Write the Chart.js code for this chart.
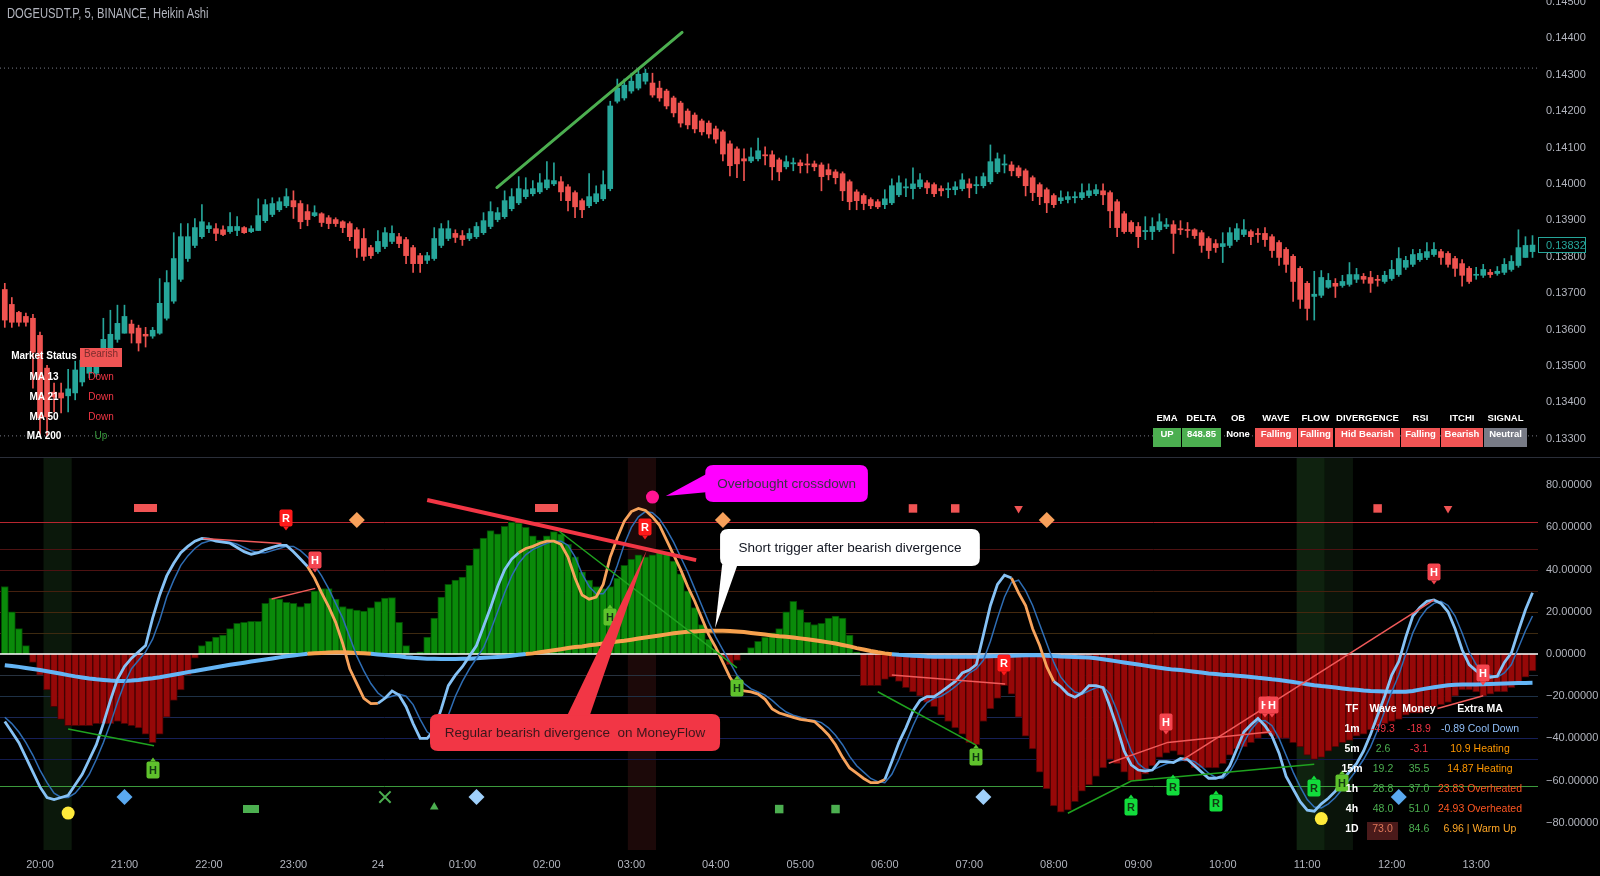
<!DOCTYPE html>
<html>
<head>
<meta charset="utf-8">
<title>DOGEUSDT.P, 5, BINANCE, Heikin Ashi</title>
<script src="https://cdn.jsdelivr.net/npm/chart.js@4.4.1/dist/chart.umd.min.js"></script>
<style>
  html, body { margin: 0; padding: 0; background: #000; }
  body { width: 1600px; height: 876px; position: relative; overflow: hidden; font-family: "Liberation Sans", Arial, sans-serif; }
  canvas { position: absolute; left: 0; }
  #price { top: 0; }
  #osc { top: 458px; }
  .sep { position: absolute; left: 0; top: 457px; width: 1600px; height: 1px; background: #2a2e39; }
  .t { position: absolute; white-space: nowrap; text-align: center; }
</style>
</head>
<body>
<canvas id="price" width="1600" height="457"></canvas>
<div class="sep"></div>
<canvas id="osc" width="1600" height="418"></canvas>
<div id="overlay"></div>
<script>
// Heikin Ashi 5m candles, first bar = 19:35 (index -5 from 20:00)
const firstBar = -5;
const hO = [
  0.13710, 0.13669, 0.13647, 0.13636, 0.13631, 0.13584, 0.13494, 0.13428, 0.13426, 0.13418,
  0.13426, 0.13456, 0.13480, 0.13480, 0.13508, 0.13543, 0.13573, 0.13590, 0.13615, 0.13604,
  0.13587, 0.13582, 0.13590, 0.13631, 0.13678, 0.13738, 0.13795, 0.13831, 0.13855, 0.13877,
  0.13877, 0.13874, 0.13869, 0.13872, 0.13880, 0.13869, 0.13872, 0.13899, 0.13916, 0.13929,
  0.13940, 0.13954, 0.13946, 0.13924, 0.13913, 0.13918, 0.13907, 0.13902, 0.13896, 0.13891,
  0.13874, 0.13850, 0.13825, 0.13814, 0.13828, 0.13842, 0.13855, 0.13847, 0.13825, 0.13803,
  0.13790, 0.13795, 0.13831, 0.13850, 0.13864, 0.13858, 0.13850, 0.13855, 0.13866, 0.13883,
  0.13902, 0.13910, 0.13932, 0.13948, 0.13965, 0.13973, 0.13978, 0.13989, 0.14000, 0.14006,
  0.13992, 0.13976, 0.13954, 0.13940, 0.13951, 0.13959, 0.13987, 0.14227, 0.14236, 0.14255,
  0.14263, 0.14282, 0.14277, 0.14263, 0.14255, 0.14236, 0.14222, 0.14200, 0.14189, 0.14173,
  0.14167, 0.14151, 0.14143, 0.14110, 0.14096, 0.14069, 0.14063, 0.14069, 0.14080, 0.14080,
  0.14066, 0.14047, 0.14055, 0.14058, 0.14055, 0.14055, 0.14052, 0.14039, 0.14033, 0.14028,
  0.14006, 0.13978, 0.13968, 0.13957, 0.13951, 0.13943, 0.13948, 0.13970, 0.13989, 0.13987,
  0.13992, 0.14003, 0.13998, 0.13987, 0.13984, 0.13984, 0.13987, 0.14000, 0.13995, 0.13995,
  0.14006, 0.14033, 0.14052, 0.14052, 0.14044, 0.14036, 0.14017, 0.13998, 0.13984, 0.13968,
  0.13954, 0.13957, 0.13962, 0.13962, 0.13968, 0.13973, 0.13981, 0.13976, 0.13951, 0.13918,
  0.13894, 0.13883, 0.13869, 0.13869, 0.13874, 0.13883, 0.13888, 0.13877, 0.13874, 0.13874,
  0.13866, 0.13850, 0.13836, 0.13828, 0.13831, 0.13847, 0.13861, 0.13869, 0.13864, 0.13864,
  0.13855, 0.13839, 0.13820, 0.13801, 0.13768, 0.13727, 0.13691, 0.13694, 0.13716, 0.13727,
  0.13721, 0.13724, 0.13738, 0.13746, 0.13743, 0.13738, 0.13732, 0.13740, 0.13751, 0.13771,
  0.13779, 0.13792, 0.13798, 0.13806, 0.13814, 0.13809, 0.13795, 0.13781, 0.13768, 0.13749,
  0.13749, 0.13757, 0.13754, 0.13757, 0.13765, 0.13776, 0.13798, 0.13814
];
const hC = [
  0.13626, 0.13620, 0.13620, 0.13620, 0.13538, 0.13357, 0.13360, 0.13415, 0.13412, 0.13437,
  0.13489, 0.13516, 0.13502, 0.13502, 0.13573, 0.13587, 0.13617, 0.13636, 0.13590, 0.13563,
  0.13582, 0.13598, 0.13672, 0.13729, 0.13795, 0.13855, 0.13855, 0.13880, 0.13896, 0.13885,
  0.13864, 0.13861, 0.13883, 0.13883, 0.13866, 0.13877, 0.13913, 0.13943, 0.13946, 0.13951,
  0.13965, 0.13937, 0.13896, 0.13902, 0.13921, 0.13894, 0.13891, 0.13891, 0.13880, 0.13855,
  0.13823, 0.13801, 0.13803, 0.13842, 0.13866, 0.13864, 0.13836, 0.13803, 0.13781, 0.13781,
  0.13803, 0.13850, 0.13877, 0.13877, 0.13853, 0.13847, 0.13864, 0.13883, 0.13899, 0.13924,
  0.13921, 0.13954, 0.13965, 0.13987, 0.13984, 0.13987, 0.14003, 0.14011, 0.14009, 0.13978,
  0.13954, 0.13937, 0.13929, 0.13965, 0.13973, 0.13998, 0.14214, 0.14263, 0.14271, 0.14282,
  0.14301, 0.14304, 0.14244, 0.14236, 0.14214, 0.14195, 0.14167, 0.14162, 0.14151, 0.14143,
  0.14137, 0.14123, 0.14082, 0.14050, 0.14055, 0.14063, 0.14074, 0.14091, 0.14077, 0.14047,
  0.14033, 0.14061, 0.14058, 0.14050, 0.14052, 0.14047, 0.14020, 0.14025, 0.14017, 0.13981,
  0.13951, 0.13954, 0.13946, 0.13940, 0.13937, 0.13959, 0.13995, 0.14003, 0.13992, 0.14000,
  0.14011, 0.13989, 0.13973, 0.13981, 0.13987, 0.13992, 0.14011, 0.13989, 0.13998, 0.14020,
  0.14061, 0.14069, 0.14055, 0.14036, 0.14022, 0.13995, 0.13976, 0.13965, 0.13948, 0.13943,
  0.13962, 0.13965, 0.13965, 0.13976, 0.13981, 0.13984, 0.13970, 0.13926, 0.13880, 0.13869,
  0.13869, 0.13855, 0.13872, 0.13883, 0.13896, 0.13888, 0.13864, 0.13874, 0.13872, 0.13858,
  0.13831, 0.13817, 0.13825, 0.13836, 0.13866, 0.13877, 0.13874, 0.13855, 0.13861, 0.13847,
  0.13817, 0.13798, 0.13779, 0.13732, 0.13683, 0.13658, 0.13697, 0.13743, 0.13735, 0.13719,
  0.13732, 0.13751, 0.13751, 0.13738, 0.13727, 0.13735, 0.13749, 0.13765, 0.13795, 0.13790,
  0.13806, 0.13809, 0.13814, 0.13820, 0.13798, 0.13779, 0.13768, 0.13749, 0.13732, 0.13751,
  0.13765, 0.13751, 0.13760, 0.13779, 0.13787, 0.13825, 0.13831, 0.13832
];
const hH = [
  0.13727, 0.13688, 0.13650, 0.13645, 0.13642, 0.13593, 0.13502, 0.13453, 0.13453, 0.13491,
  0.13513, 0.13538, 0.13527, 0.13516, 0.13631, 0.13653, 0.13667, 0.13667, 0.13626, 0.13612,
  0.13606, 0.13606, 0.13740, 0.13762, 0.13866, 0.13891, 0.13891, 0.13905, 0.13943, 0.13894,
  0.13891, 0.13885, 0.13921, 0.13910, 0.13883, 0.13885, 0.13959, 0.13957, 0.13962, 0.13962,
  0.13987, 0.13981, 0.13954, 0.13943, 0.13940, 0.13921, 0.13913, 0.13907, 0.13899, 0.13896,
  0.13880, 0.13877, 0.13831, 0.13872, 0.13880, 0.13885, 0.13864, 0.13853, 0.13831, 0.13809,
  0.13812, 0.13880, 0.13891, 0.13899, 0.13874, 0.13872, 0.13877, 0.13894, 0.13921, 0.13951,
  0.13935, 0.13981, 0.13987, 0.14020, 0.14017, 0.14009, 0.14028, 0.14061, 0.14058, 0.14020,
  0.13998, 0.13981, 0.13959, 0.14028, 0.13995, 0.14036, 0.14227, 0.14288, 0.14288, 0.14304,
  0.14318, 0.14315, 0.14304, 0.14282, 0.14260, 0.14241, 0.14227, 0.14206, 0.14195, 0.14178,
  0.14173, 0.14159, 0.14148, 0.14118, 0.14102, 0.14096, 0.14099, 0.14126, 0.14102, 0.14091,
  0.14071, 0.14077, 0.14071, 0.14066, 0.14082, 0.14063, 0.14058, 0.14055, 0.14039, 0.14033,
  0.14011, 0.13984, 0.13973, 0.13962, 0.13957, 0.13984, 0.14014, 0.14022, 0.14014, 0.14044,
  0.14028, 0.14009, 0.14003, 0.13995, 0.14003, 0.14006, 0.14028, 0.14014, 0.14020, 0.14030,
  0.14107, 0.14085, 0.14080, 0.14061, 0.14050, 0.14041, 0.14022, 0.14003, 0.13989, 0.13973,
  0.13981, 0.13978, 0.13978, 0.14000, 0.14000, 0.13998, 0.14000, 0.13981, 0.13957, 0.13924,
  0.13899, 0.13894, 0.13910, 0.13907, 0.13918, 0.13905, 0.13899, 0.13899, 0.13894, 0.13877,
  0.13872, 0.13855, 0.13847, 0.13866, 0.13880, 0.13891, 0.13902, 0.13874, 0.13877, 0.13880,
  0.13861, 0.13844, 0.13825, 0.13806, 0.13773, 0.13732, 0.13760, 0.13762, 0.13754, 0.13740,
  0.13749, 0.13784, 0.13768, 0.13754, 0.13760, 0.13749, 0.13760, 0.13790, 0.13825, 0.13801,
  0.13820, 0.13820, 0.13839, 0.13839, 0.13820, 0.13814, 0.13801, 0.13792, 0.13773, 0.13771,
  0.13779, 0.13765, 0.13773, 0.13795, 0.13803, 0.13874, 0.13855, 0.13858
];
const hL = [
  0.13606, 0.13606, 0.13609, 0.13609, 0.13439, 0.13310, 0.13308, 0.13374, 0.13371, 0.13374,
  0.13407, 0.13445, 0.13467, 0.13470, 0.13500, 0.13538, 0.13565, 0.13590, 0.13563, 0.13541,
  0.13552, 0.13576, 0.13587, 0.13626, 0.13672, 0.13732, 0.13787, 0.13825, 0.13850, 0.13866,
  0.13844, 0.13858, 0.13864, 0.13858, 0.13864, 0.13866, 0.13872, 0.13894, 0.13910, 0.13924,
  0.13935, 0.13905, 0.13877, 0.13885, 0.13910, 0.13883, 0.13877, 0.13883, 0.13866, 0.13844,
  0.13798, 0.13790, 0.13795, 0.13809, 0.13822, 0.13836, 0.13825, 0.13781, 0.13757, 0.13757,
  0.13781, 0.13790, 0.13825, 0.13844, 0.13839, 0.13831, 0.13844, 0.13850, 0.13861, 0.13877,
  0.13896, 0.13905, 0.13926, 0.13943, 0.13959, 0.13967, 0.13973, 0.13984, 0.13995, 0.13954,
  0.13926, 0.13907, 0.13907, 0.13935, 0.13946, 0.13954, 0.13981, 0.14222, 0.14230, 0.14249,
  0.14258, 0.14274, 0.14238, 0.14227, 0.14206, 0.14184, 0.14156, 0.14151, 0.14140, 0.14134,
  0.14126, 0.14112, 0.14063, 0.14022, 0.14017, 0.14009, 0.14058, 0.14063, 0.14052, 0.14011,
  0.14009, 0.14041, 0.14036, 0.14030, 0.14030, 0.14036, 0.13981, 0.14011, 0.14000, 0.13954,
  0.13929, 0.13929, 0.13929, 0.13932, 0.13932, 0.13932, 0.13943, 0.13965, 0.13965, 0.13959,
  0.13987, 0.13973, 0.13965, 0.13967, 0.13962, 0.13970, 0.13981, 0.13962, 0.13973, 0.13989,
  0.14000, 0.14028, 0.14030, 0.14022, 0.14017, 0.13967, 0.13954, 0.13943, 0.13921, 0.13935,
  0.13946, 0.13948, 0.13948, 0.13957, 0.13962, 0.13968, 0.13943, 0.13880, 0.13855, 0.13864,
  0.13864, 0.13825, 0.13847, 0.13847, 0.13869, 0.13877, 0.13809, 0.13861, 0.13853, 0.13850,
  0.13812, 0.13795, 0.13812, 0.13784, 0.13825, 0.13842, 0.13855, 0.13833, 0.13839, 0.13828,
  0.13798, 0.13776, 0.13757, 0.13677, 0.13658, 0.13626, 0.13626, 0.13688, 0.13713, 0.13688,
  0.13716, 0.13719, 0.13729, 0.13727, 0.13702, 0.13719, 0.13727, 0.13735, 0.13746, 0.13765,
  0.13773, 0.13787, 0.13792, 0.13801, 0.13779, 0.13771, 0.13746, 0.13719, 0.13727, 0.13738,
  0.13743, 0.13743, 0.13749, 0.13751, 0.13760, 0.13771, 0.13798, 0.13798
];

// oscillator panel: money flow histogram, wave lines, slow MA
const flow = [
  32, 20, 12, 4, -4, -10, -17, -25, -31, -34,
  -34, -34, -34, -33, -33, -33, -32, -33, -34, -35,
  -38, -42, -38, -30, -22, -17, -10, -2, 4, 6,
  8, 9, 12, 14.5, 15, 15.5, 15.5, 24, 26.5, 26,
  24.5, 24, 22.5, 24, 30, 31, 31, 26, 22.5, 21.5,
  20.8, 20.4, 22, 24.8, 26.5, 26.7, 15, 4, 0.5, 1,
  8, 17, 27, 33, 35, 36.5, 42, 50, 55, 58.5,
  57, 60.5, 62.5, 62, 60, 56, 54, 56, 58, 57,
  52, 46, 39, 35, 32, 31, 32, 36, 42, 45,
  47, 46, 47, 49, 48, 44, 38, 30, 22, 14,
  7, 2, -2, -5, -3, 0.5, 3, 6, 8, 10,
  12, 20, 25, 21, 15, 14, 14.5, 17, 18, 17,
  9, 1, -15, -15, -15, -12, -11, -13, -16, -18,
  -20, -23, -25, -29, -32, -35, -38, -42, -43, -32,
  -26, -21, -15, -19, -30, -39, -45, -56, -64, -72,
  -75, -74, -70, -65, -62, -58, -54, -50, -52, -56,
  -60, -60, -57, -53, -49, -47, -46, -48, -51, -54,
  -54, -54, -54, -52, -48, -45, -44, -42, -40, -38,
  -39, -40, -40, -42, -44, -48, -50, -49, -46, -44,
  -42, -41, -39, -38, -36, -34, -33, -32, -31, -29,
  -28, -28, -26, -25, -24, -23, -20, -17, -17, -18,
  -20, -19, -18, -18, -16, -14, -11, -8
];
const wave1 = [
  -32, -37, -42, -49, -56, -63, -68, -69, -68, -67,
  -62, -57, -50, -43, -33, -22, -12, -6, -2, 1,
  4, 17, 28, 37, 43, 48, 51, 53.5, 54.8, 54.5,
  53.5, 53, 52.5, 50.5, 48.5, 47.3, 48, 49.5, 50.5, 51.5,
  51.5, 48.5, 45, 41.5, 36, 29, 22.5, 15, 5, -7,
  -14, -21, -23.5, -23.4, -21, -17.5, -19.5, -25, -33, -40,
  -40, -36, -26, -15, -10, -6, -1, 4, 13, 22,
  32, 40, 45, 48, 50, 51, 52.5, 53.5, 53.5, 52,
  46, 36, 28, 26, 27, 33, 46, 55, 63, 67.5,
  69, 68, 65, 61, 54, 47, 40, 32, 25, 17,
  9, 3, -4, -11, -16, -17.5, -18, -19, -21.5, -26,
  -28, -29, -30, -31, -31.5, -32, -35, -38.4, -43, -49,
  -54, -56.5, -59, -61, -61, -59.5, -51, -42, -35, -27,
  -22, -20.2, -20.2, -18, -15.5, -13, -9, -7.6, -5, 9,
  23, 33, 37.4, 36, 29, 23, 12, 4, -6, -13,
  -15.5, -19, -20.5, -18.5, -15, -15, -16, -25, -35, -46,
  -52.5, -55, -55.5, -55, -51, -51, -51.5, -49.5, -50, -53,
  -56, -58.9, -58.9, -58, -53, -45, -37, -33.5, -30.5, -34,
  -39, -47, -58, -64, -70, -74, -74.5, -71, -68.4, -65,
  -60, -55.8, -52, -46, -38, -29, -20, -10, -3.6, 8,
  18, 22, 25, 25.6, 24, 20, 12, 2, -5, -8,
  -10, -11, -10.5, -4, 0.5, 11, 21, 29
];
const wave2 = [
  -30, -33, -37, -42, -48, -55, -61, -66, -68, -68,
  -66, -62, -57, -50, -42, -33, -23, -14, -7, -3,
  1, 7, 16, 27, 35, 42, 46.5, 50, 52.5, 53.5,
  54, 53.5, 53, 52, 50.5, 49, 48, 48, 49, 50,
  51, 51, 49, 46, 42, 37, 31, 24, 17, 8,
  -1, -8, -14, -18.5, -21, -20, -19, -20, -24, -31,
  -37, -39, -36, -29, -20, -13, -7, -2, 3, 11,
  20, 29, 37, 43, 47, 49.5, 51, 52.5, 53.5, 53.5,
  51.5, 46, 38, 32, 28.5, 28.5, 33, 42, 52, 60,
  65, 67.5, 67, 64, 59, 53, 46, 39, 31, 23,
  15, 8, 2, -4, -10, -14, -16.5, -18, -19.5, -22,
  -25, -27.5, -29, -30, -31, -31.5, -32.5, -35, -38.5, -43,
  -48.5, -53, -56, -59, -60.5, -61, -57, -50, -42, -34,
  -27, -23, -21, -20, -18, -15.5, -12.5, -9, -7, -3,
  6, 17, 27, 34, 35, 30, 23, 14, 5, -4,
  -11, -15, -18, -19, -17.5, -16, -15.5, -19, -27, -37,
  -46, -52, -54.5, -55, -53.5, -52, -51, -50.5, -50, -51,
  -53.5, -56.5, -58.5, -59, -56, -50, -42, -36, -32, -31.5,
  -34, -40, -48, -56, -63, -69, -72.5, -73, -71, -68,
  -64, -59.5, -55, -50, -44, -36, -27, -18, -10, 0,
  10, 17, 21.5, 24, 25, 23, 18, 10, 1, -5,
  -8.5, -10, -11, -9, -5, 3, 11, 18
];
const slow = [
  -5.3, -5.7, -6.1, -6.6, -7.1, -7.6, -8.2, -8.8, -9.4, -10,
  -10.6, -11.1, -11.6, -12, -12.3, -12.6, -12.8, -12.8, -12.6, -12.3,
  -11.9, -11.5, -11, -10.4, -9.8, -9.2, -8.6, -8.1, -7.5, -6.9,
  -6.3, -5.7, -5.1, -4.6, -4.1, -3.6, -3.1, -2.6, -2.1, -1.6,
  -1.1, -0.7, -0.3, 0.1, 0.3, 0.5, 0.7, 0.8, 0.8, 0.7,
  0.5, 0.3, 0.1, -0.2, -0.5, -0.8, -1.1, -1.5, -1.8, -2,
  -2.2, -2.3, -2.4, -2.4, -2.4, -2.3, -2.2, -2, -1.8, -1.6,
  -1.4, -1.2, -0.8, -0.4, 0, 0.3, 0.8, 1.3, 1.8, 2.3,
  2.8, 3.3, 3.6, 4.1, 4.5, 5, 5.4, 5.9, 6.3, 6.8,
  7.3, 7.8, 8.3, 8.8, 9.3, 9.8, 10.2, 10.5, 10.7, 10.9,
  11, 11, 11, 10.9, 10.7, 10.4, 10, 9.6, 9.2, 8.8,
  8.4, 8.2, 7.8, 7.4, 7, 6.5, 6, 5.5, 5, 4.3,
  3.6, 2.8, 2.1, 1.4, 0.8, 0.3, -0.1, -0.4, -0.6, -0.8,
  -1, -1.2, -1.3, -1.3, -1.3, -1.3, -1.3, -1.3, -1.3, -1.2,
  -1.1, -1, -0.9, -0.8, -0.7, -0.6, -0.5, -0.6, -0.8, -1,
  -1.2, -1.3, -1.4, -1.5, -1.7, -2, -2.5, -3, -3.5, -4,
  -4.5, -5, -5.5, -6, -6.5, -7, -7.4, -7.6, -8, -8.4,
  -8.8, -9.2, -9.5, -9.8, -10, -10.3, -10.6, -10.9, -11.3, -11.6,
  -12, -12.3, -12.8, -13.3, -13.8, -14.3, -14.8, -15.2, -15.5, -15.9,
  -16.3, -16.7, -17, -17.3, -17.5, -17.6, -17.8, -17.9, -17.9, -17.9,
  -17.5, -16.9, -16.3, -15.8, -15.3, -14.8, -14.6, -14.5, -14.4, -14.4,
  -14.3, -14.2, -14.1, -14, -13.9, -13.8, -13.7, -13.6
];

// axes
const hourIdx = [0, 12, 24, 36, 48, 60, 72, 84, 96, 108, 120, 132, 144, 156, 168, 180, 192, 204];
const hourLabels = ['20:00', '21:00', '22:00', '23:00', '24', '01:00', '02:00', '03:00', '04:00',
  '05:00', '06:00', '07:00', '08:00', '09:00', '10:00', '11:00', '12:00', '13:00'];
const priceTicks = [0.133, 0.134, 0.135, 0.136, 0.137, 0.138, 0.139, 0.140, 0.141, 0.142, 0.143, 0.144, 0.145];
const oscTicks = [-80, -60, -40, -20, 0, 20, 40, 60, 80];

// trend line on price
const trendIdx = [64.9, 91.2];
const trendPrice = [0.13990, 0.14416];

// shapes in oscillator
const topBlockIdx = [15, 72], topBlockVal = [69, 69];
const topSqIdx = [124, 130, 190], topSqVal = [69, 69, 69];
const topTriIdx = [139, 200], topTriVal = [69, 69];
const dmdIdx = [45, 97, 143], dmdVal = [63.5, 63.5, 63.5];
const obDotIdx = [87], obDotVal = [74.4];
const osDotIdx = [4, 182], osDotVal = [-75.4, -78];
const blueDmdIdx = [12, 193], blueDmdVal = [-67.8, -67.8];
const paleDmdIdx = [62, 134], paleDmdVal = [-67.8, -67.8];
const grnBlockIdx = [30], grnBlockVal = [-73.5];
const grnSqIdx = [105, 113], grnSqVal = [-73.5, -73.5];
const grnXIdx = [49], grnXVal = [-67.8];
const grnTriIdx = [56], grnTriVal = [-72.5];

// divergence tags
const tagIdx  = [35, 39, 86, 137, 160, 174, 175, 198, 205, 16, 81, 99, 133, 155, 161, 167, 181, 185];
const tagVal  = [64.5, 44.5, 60, -4.5, -32, -24, -24, 39, -9, -55, 17.5, -16, -49, -72.5, -63, -70.6, -63.5, -61];
const tagText = ['R', 'H', 'R', 'R', 'H', 'H', 'H', 'H', 'H', 'H', 'H', 'H', 'H', 'R', 'R', 'R', 'R', 'H'];
const tagBear = [1, 1, 1, 1, 1, 1, 1, 1, 1, 0, 0, 0, 0, 0, 0, 0, 0, 0];

// divergence lines
const divLines = [
  { pts: [[23.2, 54.8], [34.3, 52.4]], color: '#f05a5a', w: 1.5 },
  { pts: [[32.9, 26.1], [39.1, 31.1]], color: '#f05a5a', w: 1.5 },
  { pts: [[4, -35.6], [16.2, -43.5]], color: '#1fa31f', w: 1.5 },
  { pts: [[73.7, 58.3], [99, -6.6]], color: '#1fa31f', w: 1.5 },
  { pts: [[119, -17.9], [132.9, -43.1]], color: '#1fa31f', w: 1.5 },
  { pts: [[121, -10], [137.1, -14.2]], color: '#f05a5a', w: 1.5 },
  { pts: [[146, -75.5], [155, -60.2], [181, -52.3]], color: '#1fa31f', w: 1.5 },
  { pts: [[151.8, -51.8], [160.2, -41.9], [174.9, -36.8]], color: '#f05a5a', w: 1.5 },
  { pts: [[162.3, -50.2], [198, 25.6]], color: '#f05a5a', w: 1.5 },
  { pts: [[198.5, -25.8], [205, -19.8]], color: '#f05a5a', w: 1.5 },
  { pts: [[55, 73], [93.2, 44.5]], color: '#f23645', w: 4 }
];

// shaded background bands (bar index ranges)
const bandFrom = [1, 84, 179, 183];
const bandTo = [4, 87, 182, 186];
const bandCol = ['#0b180b', '#1c0909', '#0f220f', '#0a140a'];

// horizontal levels
const levelVals = [62.5, 50, 40, 30, 20, 10, -10, -20, -30, -40, -50, -62.5];
const levelCols = ['#b8262f', '#4d1212', '#4d1212', '#45200e', '#45290e', '#3d2a10',
  '#27323f', '#1e3146', '#1a2754', '#161f58', '#131b4d', '#3c9a3c'];

const X_MIN = -5.68, X_MAX = 212.78;
const UP = '#26a69a', DOWN = '#ef5350';
const AXIS_TXT = '#b2b5be';
Chart.defaults.font.family = '"Liberation Sans", Arial, sans-serif';

const idx = hC.map((_, k) => k + firstBar);
const candleCol = hC.map((c, k) => (c >= hO[k] ? UP : DOWN));
const hiLine = Math.max(...hH), loLine = Math.min(...hL);

// no extra label padding: chart area must fill the panel edge to edge
const noPad = s => { s.paddingTop = 0; s.paddingBottom = 0; s.paddingLeft = 0; s.paddingRight = 0; };

const rightAxis = (min, max, ticks, fmt) => ({
  position: 'right', min, max, beginAtZero: false,
  grid: { display: false, drawTicks: false }, border: { display: false },
  afterBuildTicks: s => { s.ticks = ticks.map(v => ({ value: v })); },
  afterFit: s => { s.width = 62; noPad(s); },
  ticks: { color: AXIS_TXT, font: { size: 11 }, padding: 8, callback: fmt }
});

// last price tag on price axis
const lastPricePlugin = {
  id: 'lastPrice',
  afterDraw(chart) {
    const { ctx, scales: { y }, chartArea } = chart;
    const v = hC[hC.length - 1];
    const py = Math.round(y.getPixelForValue(v));
    ctx.save();
    ctx.fillStyle = '#000';
    ctx.fillRect(chartArea.right, py - 8, 48, 16);
    ctx.strokeStyle = UP; ctx.lineWidth = 1;
    ctx.strokeRect(chartArea.right + 0.5, py - 7.5, 47, 15);
    ctx.fillStyle = UP; ctx.font = '11px "Liberation Sans"';
    ctx.textBaseline = 'middle'; ctx.textAlign = 'left';
    ctx.fillText(v.toFixed(5), chartArea.right + 8, py + 0.5);
    ctx.restore();
  }
};

new Chart(document.getElementById('price'), {
  type: 'bar',
  data: {
    datasets: [
      { data: idx.map((x, k) => ({ x, y: [hO[k], hC[k]] })), backgroundColor: candleCol,
        barThickness: 5, minBarLength: 1, grouped: false, order: 2 },
      { data: idx.map((x, k) => ({ x, y: [hL[k], hH[k]] })), backgroundColor: candleCol,
        barThickness: 1, grouped: false, order: 3 },
      { type: 'line', data: trendIdx.map((x, k) => ({ x, y: trendPrice[k] })), borderColor: '#4caf50',
        borderWidth: 3, pointRadius: 0, borderCapStyle: 'round', order: 0 },
      { type: 'line', data: [{ x: X_MIN, y: hiLine }, { x: X_MAX, y: hiLine }], borderColor: '#787b86',
        borderWidth: 1, borderDash: [1, 3], pointRadius: 0, order: 4 },
      { type: 'line', data: [{ x: X_MIN, y: loLine }, { x: X_MAX, y: loLine }], borderColor: '#787b86',
        borderWidth: 1, borderDash: [1, 3], pointRadius: 0, order: 4 }
    ]
  },
  options: {
    responsive: false, animation: false, events: [],
    layout: { padding: 0, autoPadding: false },
    plugins: { legend: { display: false }, tooltip: { enabled: false } },
    scales: {
      x: { type: 'linear', min: X_MIN, max: X_MAX, offset: false, display: false, grid: { display: false },
        afterFit: noPad },
      y: rightAxis(0.13250, 0.14505, priceTicks, v => v.toFixed(5))
    }
  },
  plugins: [lastPricePlugin]
});

// ---- oscillator
const scatter = (xs, vs, style, color, r, extra) => Object.assign({
  type: 'scatter', data: xs.map((x, k) => ({ x, y: vs[k] })), pointStyle: style, pointRadius: r,
  backgroundColor: color, borderColor: color, borderWidth: 0, order: 1
}, extra || {});

function block(w, h, color) {
  const c = document.createElement('canvas');
  c.width = w; c.height = h;
  const g = c.getContext('2d');
  g.fillStyle = color; g.fillRect(0, 0, w, h);
  return c;
}

const orangeSpans = [[38, 48], [68, 120], [138, 144]];
const LIGHT = '#86c2f5', ORANGE = '#f7a35c';

const backPlugin = {
  id: 'back',
  beforeDatasetsDraw(chart) {
    const { ctx, scales: { x, y }, chartArea: a } = chart;
    ctx.save();
    bandFrom.forEach((f, k) => {
      const l = x.getPixelForValue(f - 0.5), r = x.getPixelForValue(bandTo[k] + 0.5);
      ctx.fillStyle = bandCol[k];
      ctx.fillRect(l, a.top, r - l, a.bottom - a.top);
    });
    levelVals.forEach((v, k) => {
      const py = Math.round(y.getPixelForValue(v)) + 0.5;
      ctx.strokeStyle = levelCols[k]; ctx.lineWidth = 1;
      ctx.beginPath(); ctx.moveTo(a.left, py); ctx.lineTo(a.right, py); ctx.stroke();
    });
    ctx.restore();
  },
  afterDatasetDraw(chart, args) {
    if (args.index !== 0) return;
    const { ctx, scales: { y }, chartArea: a } = chart;
    const py = y.getPixelForValue(0);
    ctx.save();
    ctx.strokeStyle = '#ffffff'; ctx.lineWidth = 1.5;
    ctx.beginPath(); ctx.moveTo(a.left, py); ctx.lineTo(a.right, py); ctx.stroke();
    ctx.restore();
  }
};

const notes = [
  { text: 'Overbought crossdown', box: [94.5, 117.6, 72, 89.6],
    tail: [[88.9, 74.9], [94.6, 85.2], [94.6, 76.7]], fill: '#ff00ff', color: '#3a3344' },
  { text: 'Short trigger after bearish divergence', box: [96.6, 133.5, 41.7, 59.2],
    tail: [[95.9, 12.3], [96.9, 42.5], [99.1, 42.5]], fill: '#ffffff', color: '#131722' },
  { text: 'Regular bearish divergence  on MoneyFlow', box: [55.4, 96.6, -46, -28.4],
    tail: [[86.2, 49.3], [74.9, -29], [78.1, -29]], fill: '#f23645', color: '#3a161b' }
];

function rr(ctx, x, y, w, h, r) {
  ctx.beginPath();
  ctx.moveTo(x + r, y); ctx.lineTo(x + w - r, y); ctx.quadraticCurveTo(x + w, y, x + w, y + r);
  ctx.lineTo(x + w, y + h - r); ctx.quadraticCurveTo(x + w, y + h, x + w - r, y + h);
  ctx.lineTo(x + r, y + h); ctx.quadraticCurveTo(x, y + h, x, y + h - r);
  ctx.lineTo(x, y + r); ctx.quadraticCurveTo(x, y, x + r, y);
  ctx.closePath();
}

const frontPlugin = {
  id: 'front',
  afterDatasetsDraw(chart) {
    const { ctx, scales: { x, y } } = chart;
    ctx.save();
    // tags
    ctx.font = 'bold 11px "Liberation Sans"';
    ctx.textAlign = 'center'; ctx.textBaseline = 'middle';
    tagIdx.forEach((t, k) => {
      const px = Math.round(x.getPixelForValue(t)), py = Math.round(y.getPixelForValue(tagVal[k]));
      const bear = tagBear[k] === 1;
      const fill = bear ? (tagText[k] === 'R' ? '#ff1a1a' : '#f5454f') : (tagText[k] === 'R' ? '#12dc3c' : '#5fc22c');
      const w = 13, h = 17;
      ctx.fillStyle = fill;
      rr(ctx, px - w / 2, py - h / 2, w, h, 2); ctx.fill();
      ctx.beginPath();
      if (bear) { ctx.moveTo(px - 3, py + h / 2); ctx.lineTo(px + 3, py + h / 2); ctx.lineTo(px, py + h / 2 + 4); }
      else { ctx.moveTo(px - 3, py - h / 2); ctx.lineTo(px + 3, py - h / 2); ctx.lineTo(px, py - h / 2 - 4); }
      ctx.fill();
      ctx.fillStyle = bear ? '#ffffff' : '#123a12';
      ctx.fillText(tagText[k], px, py + 1);
    });
    // callouts
    ctx.font = '13.5px "Liberation Sans"';
    notes.forEach(n => {
      const [i0, i1, v0, v1] = n.box;
      const L = x.getPixelForValue(i0), R = x.getPixelForValue(i1);
      const T = y.getPixelForValue(v1), B = y.getPixelForValue(v0);
      ctx.fillStyle = n.fill;
      rr(ctx, L, T, R - L, B - T, 8); ctx.fill();
      ctx.beginPath();
      n.tail.forEach(([a, b], k) => {
        const px = x.getPixelForValue(a), py = y.getPixelForValue(b);
        if (k) ctx.lineTo(px, py); else ctx.moveTo(px, py);
      });
      ctx.closePath(); ctx.fill();
      ctx.fillStyle = n.color;
      ctx.fillText(n.text, (L + R) / 2, (T + B) / 2 + 1);
    });
    ctx.restore();
  }
};

const oscSets = [
  { label: 'flow', data: idx.map((x, k) => ({ x, y: flow[k] })),
    backgroundColor: flow.map(v => (v >= 0 ? '#0a8a0a' : '#960808')),
    borderColor: flow.map(v => (v >= 0 ? '#034a03' : '#430303')),
    borderWidth: 1, barPercentage: 1, categoryPercentage: 1, grouped: false, order: 20 },
  { type: 'line', label: 'slow', data: idx.map((x, k) => ({ x, y: slow[k] })), borderWidth: 4,
    borderColor: '#64b5f6', pointRadius: 0, order: 15,
    segment: { borderColor: c => (c.p0.parsed.y + c.p1.parsed.y > 0 ? '#f6a04d' : '#64b5f6') } },
  { type: 'line', label: 'wave2', data: idx.map((x, k) => ({ x, y: wave2[k] })), borderWidth: 1.5,
    borderColor: '#2e6db4', pointRadius: 0, order: 14 },
  { type: 'line', label: 'wave1', data: idx.map((x, k) => ({ x, y: wave1[k] })), borderWidth: 2.8,
    borderColor: LIGHT, pointRadius: 0, order: 13,
    segment: { borderColor: c => (orangeSpans.some(([a, b]) => c.p0.parsed.x >= a && c.p1.parsed.x <= b) ? ORANGE : LIGHT) } }
];
divLines.forEach(d => oscSets.push({
  type: 'line', data: d.pts.map(([x, y]) => ({ x, y })), borderColor: d.color, borderWidth: d.w,
  pointRadius: 0, order: 12
}));
oscSets.push(
  scatter(topBlockIdx, topBlockVal, block(23, 8, '#f05454'), '#f05454', 5),
  scatter(topSqIdx, topSqVal, 'rect', '#f05454', 6),
  scatter(topTriIdx, topTriVal, 'triangle', '#f05454', 5, { rotation: 180 }),
  scatter(dmdIdx, dmdVal, 'rectRot', '#f7a05a', 8),
  scatter(obDotIdx, obDotVal, 'circle', '#ff1493', 6.5),
  scatter(osDotIdx, osDotVal, 'circle', '#ffeb3b', 6.5),
  scatter(blueDmdIdx, blueDmdVal, 'rectRot', '#5aa9f0', 8),
  scatter(paleDmdIdx, paleDmdVal, 'rectRot', '#9fd0fb', 8),
  scatter(grnBlockIdx, grnBlockVal, block(16, 8, '#4caf50'), '#4caf50', 5),
  scatter(grnSqIdx, grnSqVal, 'rect', '#4caf50', 6),
  scatter(grnXIdx, grnXVal, 'crossRot', '#4caf50', 8, { borderWidth: 2 }),
  scatter(grnTriIdx, grnTriVal, 'triangle', '#4caf50', 5)
);

new Chart(document.getElementById('osc'), {
  type: 'bar',
  data: { datasets: oscSets },
  options: {
    responsive: false, animation: false, events: [],
    layout: { padding: 0, autoPadding: false },
    plugins: { legend: { display: false }, tooltip: { enabled: false } },
    scales: {
      x: {
        type: 'linear', min: X_MIN, max: X_MAX, offset: false,
        grid: { display: false, drawTicks: false }, border: { display: false },
        afterBuildTicks: s => { s.ticks = hourIdx.map(v => ({ value: v })); },
        afterFit: s => { s.height = 26; noPad(s); },
        ticks: { color: AXIS_TXT, font: { size: 11 }, padding: 8, maxRotation: 0, autoSkip: false,
          callback: v => hourLabels[hourIdx.indexOf(v)] }
      },
      y: rightAxis(-92.9, 92.9, oscTicks, v => (v < 0 ? '\u2212' : '') + Math.abs(v).toFixed(5))
    }
  },
  plugins: [backPlugin, frontPlugin]
});

// ---- text overlays (tables and title)
const ov = document.getElementById('overlay');
function put(text, o) {
  const d = document.createElement('div');
  d.className = 't';
  d.textContent = text;
  Object.assign(d.style, {
    left: o.x + 'px', top: o.y + 'px', width: o.w + 'px', height: o.h + 'px', lineHeight: o.h + 'px',
    font: o.font, color: o.color, background: o.bg || 'transparent', textAlign: o.align || 'center'
  });
  if (o.sx) { d.style.transform = 'scaleX(' + o.sx + ')'; d.style.transformOrigin = 'left center'; }
  ov.appendChild(d);
}

put('DOGEUSDT.P, 5, BINANCE, Heikin Ashi', { x: 7, y: 5, w: 260, h: 18, font: '14px "Liberation Sans"', color: '#b2b5be', align: 'left', sx: 0.8 });

// market status block
const statusLabels = ['Market Status', 'MA 13', 'MA 21', 'MA 50', 'MA 200'];
const statusValues = ['Bearish', 'Down', 'Down', 'Down', 'Up'];
const statusRowY = [359, 380, 400, 420, 439];
statusLabels.forEach((s, k) => {
  put(s, { x: 4, y: statusRowY[k] - 9, w: 80, h: 18, font: 'bold 10px "Liberation Sans"', color: '#ffffff' });
  const v = statusValues[k];
  if (k === 0) put(v, { x: 80, y: 348, w: 42, h: 19, font: '10px "Liberation Sans"', color: '#7a2c2c', bg: '#f05454' });
  else put(v, { x: 81, y: statusRowY[k] - 9, w: 40, h: 18, font: '10px "Liberation Sans"', color: v === 'Up' ? '#3a9a3e' : '#f23645' });
});

// signal table
const sigHeads = ['EMA', 'DELTA', 'OB', 'WAVE', 'FLOW', 'DIVERGENCE', 'RSI', 'ITCHI', 'SIGNAL'];
const sigVals = ['UP', '848.85', 'None', 'Falling', 'Falling', 'Hid Bearish', 'Falling', 'Bearish', 'Neutral'];
const sigTone = ['up', 'up', 'none', 'dn', 'dn', 'dn', 'dn', 'dn', 'flat'];
const sigLeft = [1153, 1182, 1222, 1255, 1298, 1335, 1401, 1441, 1484];
const sigWidth = [28, 39, 32, 42, 35, 65, 39, 42, 43];
const toneBg = { up: '#4caf50', none: 'transparent', dn: '#f05454', flat: '#787b86' };
sigHeads.forEach((hd, k) => {
  put(hd, { x: sigLeft[k], y: 412, w: sigWidth[k], h: 16, font: 'bold 9.5px "Liberation Sans"', color: '#ffffff' });
  put(sigVals[k], { x: sigLeft[k], y: 428, w: sigWidth[k], h: 19, font: 'bold 9.5px "Liberation Sans"', color: '#ffffff', bg: toneBg[sigTone[k]] });
});

// multi-timeframe table
const tfHeads = ['TF', 'Wave', 'Money', 'Extra MA'];
const tfRows = ['1m', '5m', '15m', '1h', '4h', '1D'];
const tfWave = ['-49.3', '2.6', '19.2', '28.8', '48.0', '73.0'];
const tfMoney = ['-18.9', '-3.1', '35.5', '37.0', '51.0', '84.6'];
const tfExtra = ['-0.89 Cool Down', '10.9 Heating', '14.87 Heating', '23.83 Overheated', '24.93 Overheated', '6.96 | Warm Up'];
const colCx = [1352, 1383, 1419, 1480];
const colW = [26, 34, 38, 110];
const rowCy = [711, 731, 751, 771, 791, 811, 831];
const numCol = s => (parseFloat(s) < 0 ? '#f23645' : '#4caf50');
const extraCol = ['#90bff9', '#ff9800', '#ff9800', '#ff5722', '#ff5722', '#ffa726'];
tfHeads.forEach((hd, c) => put(hd, { x: colCx[c] - colW[c] / 2, y: rowCy[0] - 9, w: colW[c], h: 18, font: 'bold 10.5px "Liberation Sans"', color: '#ffffff' }));
tfRows.forEach((r, k) => {
  const cy = rowCy[k + 1] - 9;
  put(r, { x: colCx[0] - colW[0] / 2, y: cy, w: colW[0], h: 18, font: 'bold 10.5px "Liberation Sans"', color: '#ffffff' });
  const last = k === tfRows.length - 1;
  put(tfWave[k], { x: last ? 1367 : colCx[1] - colW[1] / 2, y: last ? 822 : cy, w: last ? 31 : colW[1], h: 18,
    font: '10.5px "Liberation Sans"', color: last ? '#e0785a' : numCol(tfWave[k]), bg: last ? '#4a1a1a' : 'transparent' });
  put(tfMoney[k], { x: colCx[2] - colW[2] / 2, y: cy, w: colW[2], h: 18, font: '10.5px "Liberation Sans"', color: numCol(tfMoney[k]) });
  put(tfExtra[k], { x: colCx[3] - colW[3] / 2, y: cy, w: colW[3], h: 18, font: '10.5px "Liberation Sans"', color: extraCol[k] });
});
</script>
</body>
</html>
